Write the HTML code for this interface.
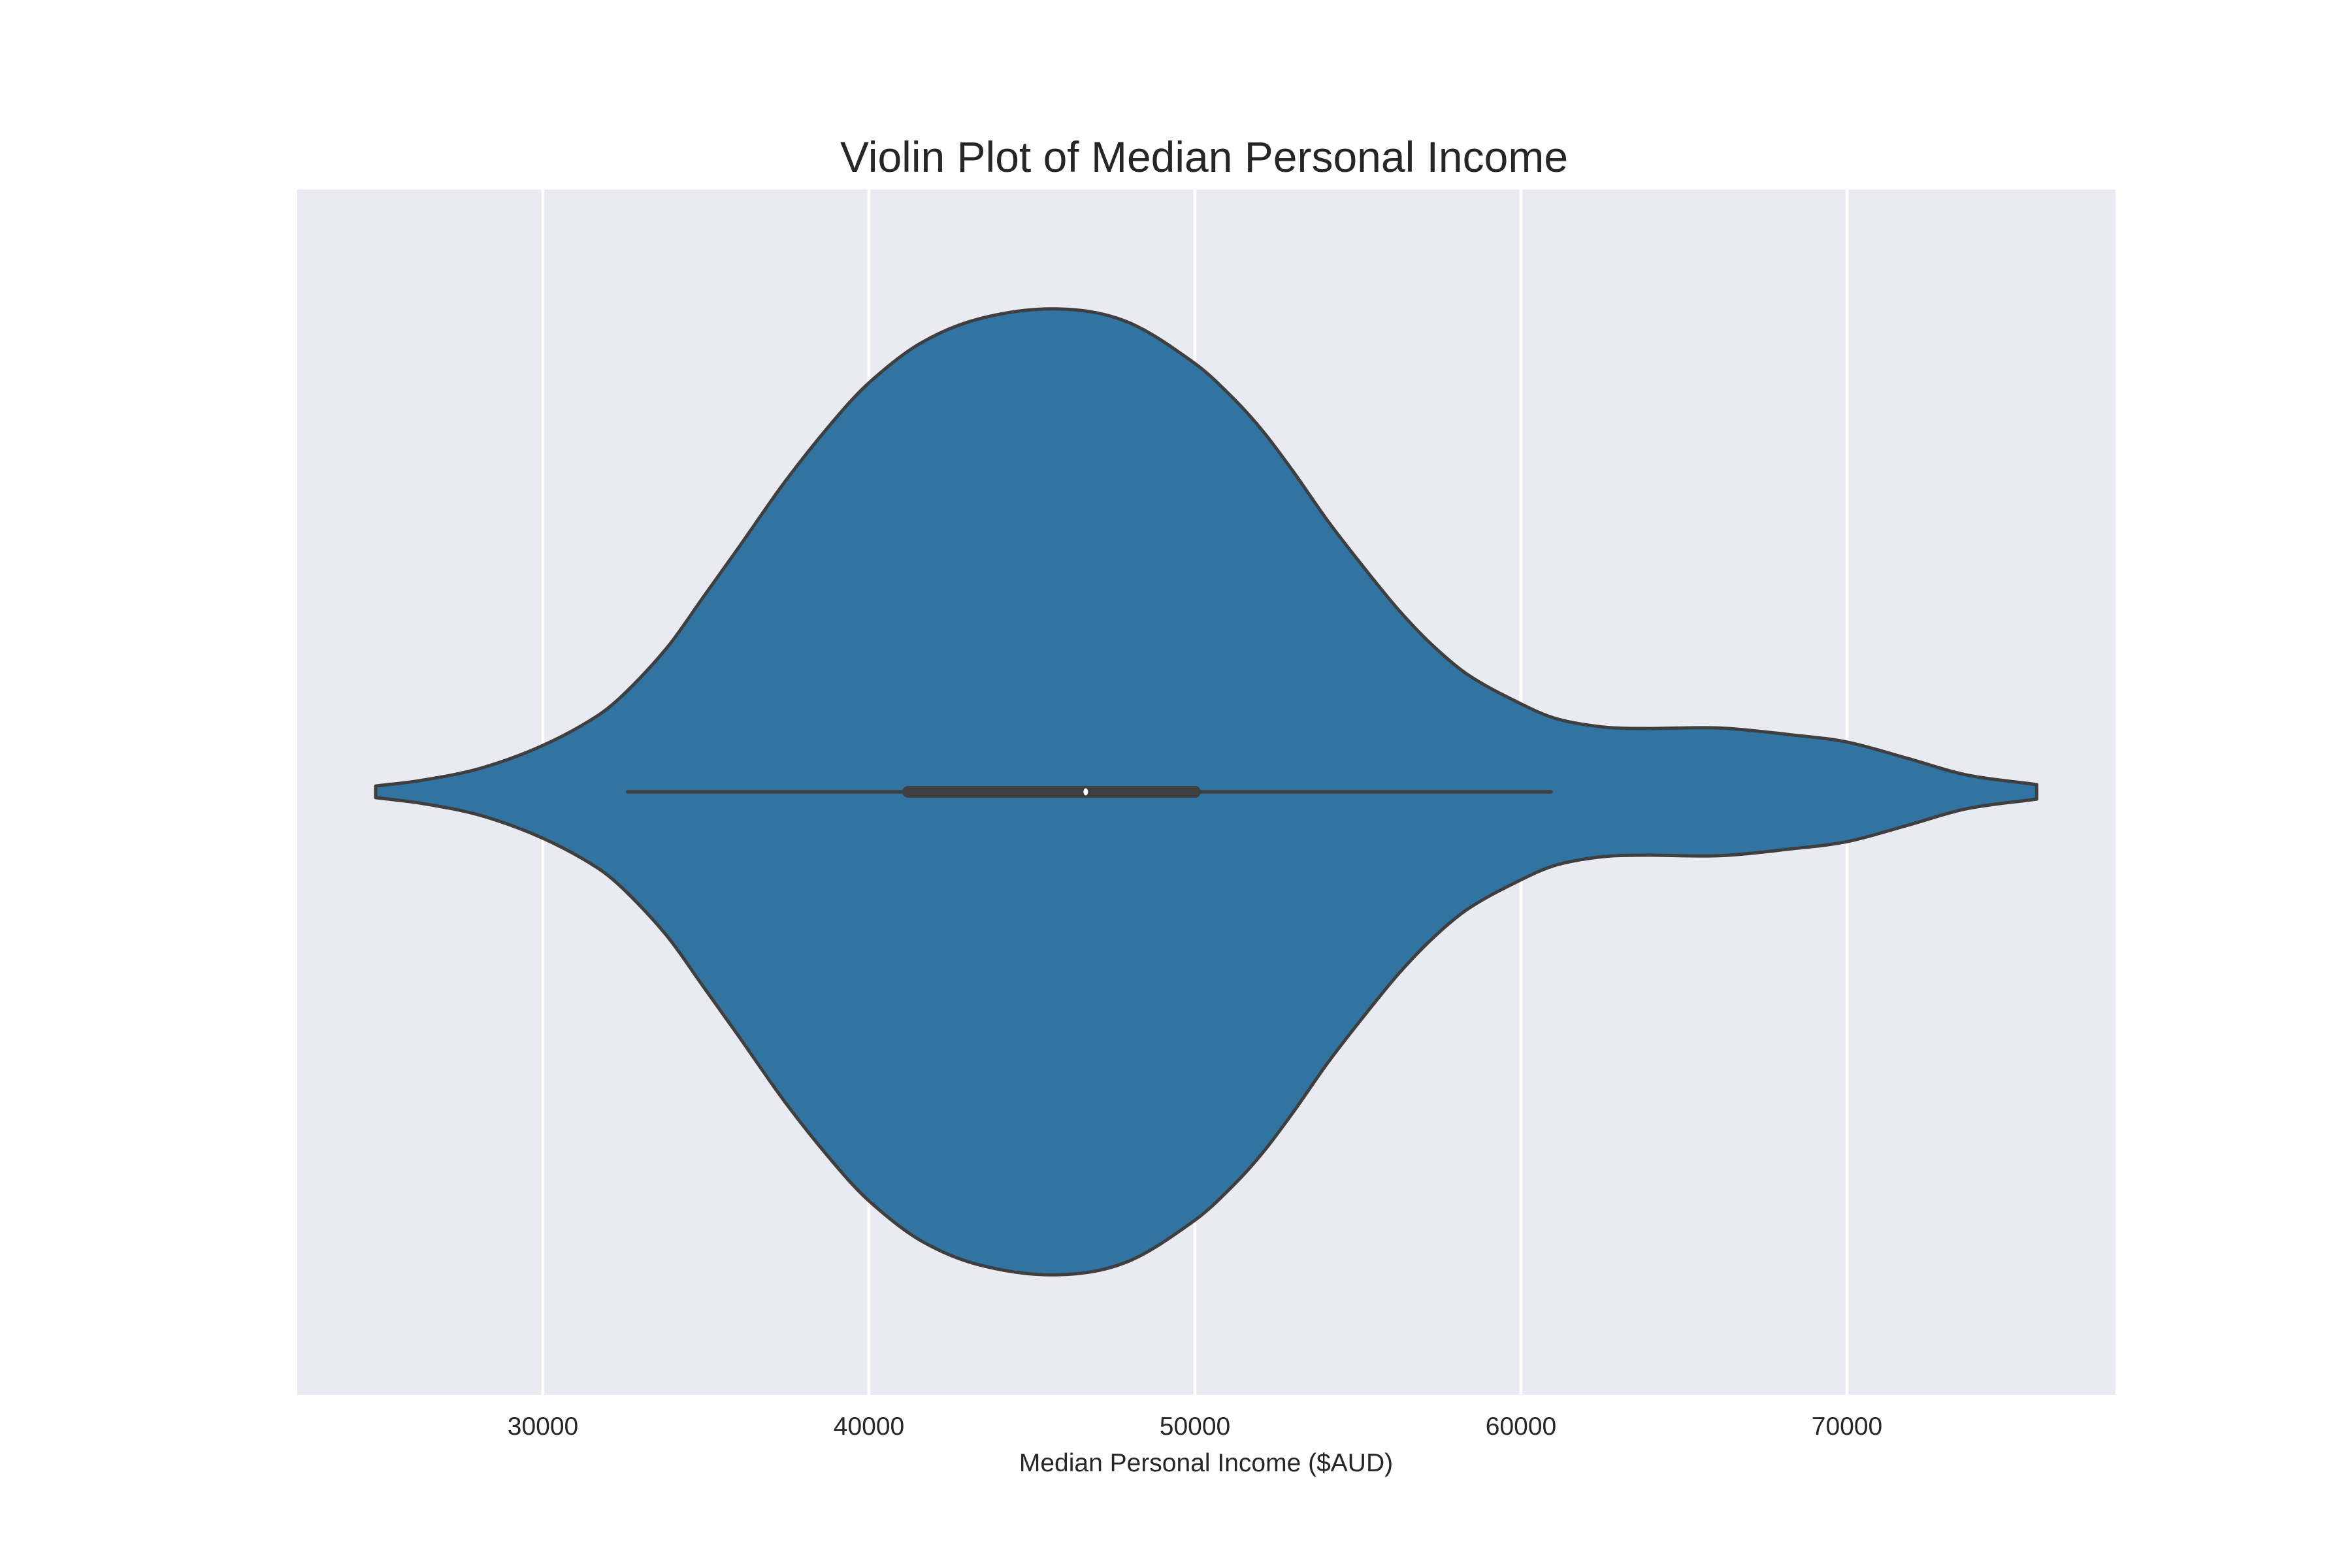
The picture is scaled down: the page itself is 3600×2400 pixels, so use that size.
<!DOCTYPE html>
<html><head><meta charset="utf-8"><style>
html,body{margin:0;padding:0;background:#fff;}
svg{display:block;font-family:"Liberation Sans",Arial,sans-serif;}
</style></head><body>
<svg id="chart" width="3600" height="2400" viewBox="0 0 3600 2400">
<rect x="455" y="290" width="2783" height="1845" fill="#eaeaf2"/>
<g id="grid"></g>
<g id="violin"></g>
<g id="ticks"></g>
<text x="1843" y="263" font-size="66" text-anchor="middle" fill="#262626">Violin Plot of Median Personal Income</text>
<text x="1846" y="2252" font-size="39" text-anchor="middle" fill="#262626">Median Personal Income ($AUD)</text>
</svg>
<script>
const incomeGrid=[24870,26300,28100,30000,31690,32590,33840,34920,36000,37430,38870,40000,41560,43360,45690,47850,50000,51220,52120,53020,54090,55170,56250,57320,58400,60000,61100,62530,63790,66120,68280,70000,71870,73660,75820];
const density=[0.012,0.024,0.049,0.096,0.158,0.209,0.301,0.403,0.505,0.642,0.764,0.846,0.927,0.978,0.999,0.974,0.886,0.811,0.743,0.662,0.559,0.465,0.376,0.301,0.241,0.182,0.151,0.134,0.131,0.132,0.118,0.103,0.069,0.035,0.015];
const tickValues=[30000,40000,50000,60000,70000];
const tickLabels=["30000","40000","50000","60000","70000"];
const boxStats=[32600,41200,46650,50000,60920]; // whiskerLow, q1, median, q3, whiskerHigh

const NS="http://www.w3.org/2000/svg";
const X=v=>831+(v-30000)*0.0499;
const CY=1212, HW=740;
const W=(d)=>d*HW;
function mk(tag,attrs,parent){const e=document.createElementNS(NS,tag);for(const k in attrs)e.setAttribute(k,attrs[k]);parent.appendChild(e);return e;}

const gridG=document.getElementById('grid'), ticksG=document.getElementById('ticks');
tickValues.forEach((v,i)=>{
  const l=mk('line',{x1:X(v),x2:X(v),y1:290,y2:2135,stroke:'#ffffff','stroke-width':4.5},gridG);
  
  
  const t=mk('text',{x:X(v),y:2196,'font-size':39,'text-anchor':'middle',fill:'#262626'},ticksG);
  t.textContent=tickLabels[i];
  
  
});

function smooth(pts){
  const n=pts.length, m=[];
  for(let i=0;i<n;i++){
    const a=pts[Math.max(0,i-1)], b=pts[Math.min(n-1,i+1)];
    m.push((b[1]-a[1])/(b[0]-a[0]));
  }
  let d='';
  for(let i=0;i<n-1;i++){
    const p1=pts[i],p2=pts[i+1],h=(p2[0]-p1[0])/3;
    d+=` C${p1[0]+h},${p1[1]+m[i]*h} ${p2[0]-h},${p2[1]-m[i+1]*h} ${p2[0]},${p2[1]}`;
  }
  return d;
}
const upperPts=incomeGrid.map((v,i)=>[X(v),CY-W(density[i])]);
const lowerPts=incomeGrid.map((v,i)=>[X(v),CY+W(density[i])]).reverse();
let pathD=`M${upperPts[0][0]},${upperPts[0][1]}`+smooth(upperPts)+` L${lowerPts[0][0]},${lowerPts[0][1]}`+smooth(lowerPts)+' Z';
const vg=document.getElementById('violin');
const body=mk('path',{d:pathD,fill:'#3274a1',stroke:'#3f3f3f','stroke-width':5,'stroke-linejoin':'round'},vg);


const wh=mk('line',{x1:X(boxStats[0]),x2:X(boxStats[4]),y1:CY,y2:CY,stroke:'#3f3f3f','stroke-width':5.5,'stroke-linecap':'round'},vg);


const bx=mk('line',{x1:X(boxStats[1]),x2:X(boxStats[3]),y1:CY,y2:CY,stroke:'#3f3f3f','stroke-width':18,'stroke-linecap':'round'},vg);


const md=mk('ellipse',{cx:X(boxStats[2]),cy:CY,rx:3.5,ry:5.5,fill:'#ffffff'},vg);


</script>
</body></html>
